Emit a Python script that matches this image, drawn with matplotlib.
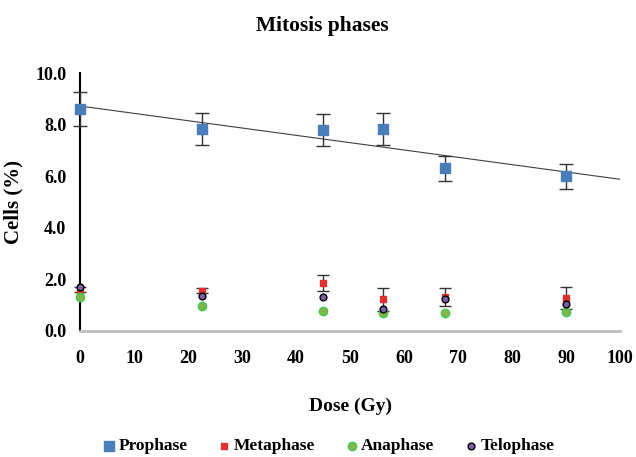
import numpy as np
import matplotlib.pyplot as plt

plt.rcParams['font.family'] = ['Liberation Serif', 'DejaVu Serif']
plt.rcParams['font.weight'] = 'bold'

## Doses
dose = [0, 22.5, 45, 56, 67.5, 90]  # [Gy]

## Cell fractions per phase [%]
prophase = [8.6, 7.83, 7.8, 7.82, 6.3, 6.0]
prophase_err = [0.65, 0.63, 0.62, 0.62, 0.49, 0.49]
metaphase = [1.6, 1.55, 1.85, 1.22, 1.32, 1.27]
metaphase_err = [0.1, 0.1, 0.3, 0.45, 0.35, 0.42]
anaphase = [1.33, 0.95, 0.76, 0.7, 0.7, 0.73]
telophase = [1.7, 1.34, 1.3, 0.85, 1.24, 1.03]

fig, ax = plt.subplots(figsize=(6.36, 4.57), dpi=100)
fig.subplots_adjust(left=0.126, right=0.975, bottom=0.276, top=0.84)

## Linear trend of prophase
coef = np.polyfit(dose, prophase, 1)
xfit = np.array([0, 100])
ax.plot(xfit, np.polyval(coef, xfit), color='#404040', lw=0.8, zorder=2)

eb1 = ax.errorbar(dose, prophase, yerr=prophase_err, fmt='none',
                  ecolor='#333333', elinewidth=1, capsize=5, zorder=3)
eb2 = ax.errorbar(dose, metaphase, yerr=metaphase_err, fmt='none',
                  ecolor='#333333', elinewidth=1, capsize=4, zorder=3)
for eb in (eb1, eb2):
    for art in eb.lines[1] + eb.lines[2]:
        art.set_clip_on(False)

sc = []
sc.append(ax.scatter(dose, prophase, marker='s', s=48, color='#4a7ebb',
                     zorder=4, label='Prophase'))
sc.append(ax.scatter(dose, metaphase, marker='s', s=22, color='#e03131',
                     zorder=4, label='Metaphase'))
sc.append(ax.scatter(dose, anaphase, marker='o', s=36, color='#86b446',
                     edgecolors='#3ccc55', linewidths=1, zorder=5,
                     label='Anaphase'))
sc.append(ax.scatter(dose, telophase, marker='o', s=24, color='#7b5ea7',
                     edgecolors='black', linewidths=1, zorder=6,
                     label='Telophase'))
for s in sc:
    s.set_clip_on(False)

ax.set_xlim(0, 100)
ax.set_ylim(0, 10)
ax.set_xticks(range(0, 101, 10))
ax.set_yticks(np.arange(0, 10.1, 2))
ax.set_yticklabels([f'{v:.1f}' for v in np.arange(0, 10.1, 2)])
ax.tick_params(length=0, labelsize=13)
ax.tick_params(axis='x', pad=14)
ax.tick_params(axis='y', pad=10)
for lab in ax.get_xticklabels() + ax.get_yticklabels():
    lab.set_fontweight('bold')

for s in ['top', 'right']:
    ax.spines[s].set_visible(False)
ax.spines['left'].set_color('black')
ax.spines['left'].set_linewidth(1.5)
ax.spines['bottom'].set_color('#bfbfbf')
ax.spines['bottom'].set_linewidth(2)

fig.text(0.506, 1 - 26 / 457, 'Mitosis phases', fontsize=15.5,
         fontweight='bold', ha='center', va='center')
ax.set_xlabel('Dose (Gy)', fontsize=14, fontweight='bold', labelpad=22)
ax.set_ylabel('Cells (%)', fontsize=15, fontweight='bold')
ax.yaxis.set_label_coords(-0.104, 0.5)

ax.legend(loc='center', bbox_to_anchor=(0.458, -0.447), ncol=4,
          frameon=False, handletextpad=0.05, columnspacing=1.6,
          handlelength=1.0, markerscale=1.0,
          prop={'weight': 'bold', 'size': 12.5})

fig.savefig('out.png', dpi=100)
